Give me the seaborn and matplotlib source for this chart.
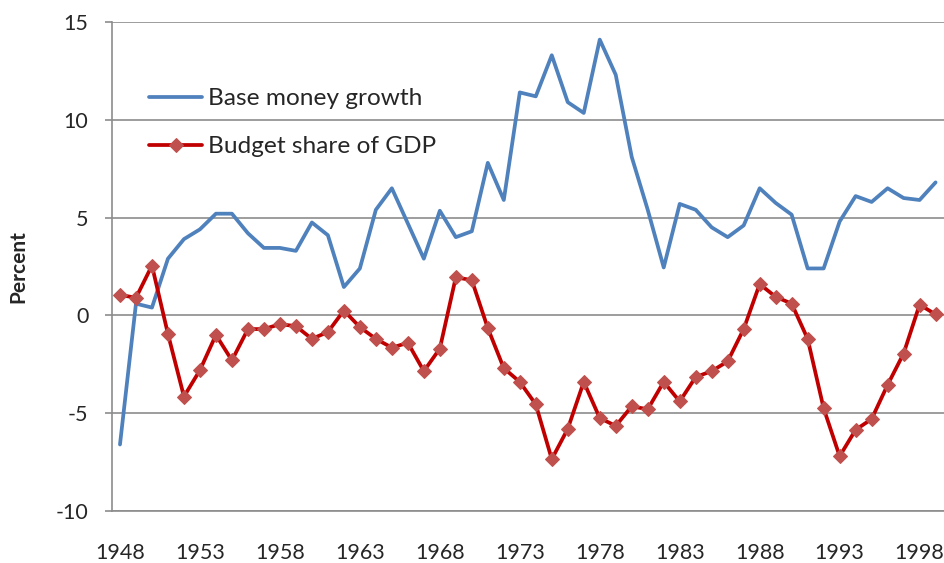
import numpy as np
import pandas as pd
import matplotlib
matplotlib.use('Agg')
import matplotlib.pyplot as plt
import seaborn as sns

# Values
years = list(range(1948, 2000))
base_money_growth = [
    -6.6, 0.6, 0.4, 2.9, 3.9, 4.4, 5.2, 5.2, 4.2, 3.45,
    3.45, 3.3, 4.75, 4.1, 1.45, 2.4, 5.4, 6.5, 4.7, 2.9,
    5.35, 4.0, 4.3, 7.8, 5.9, 11.4, 11.2, 13.3, 10.9, 10.35,
    14.1, 12.3, 8.1, 5.4, 2.45, 5.7, 5.4, 4.5, 4.0, 4.6,
    6.5, 5.75, 5.15, 2.4, 2.4, 4.8, 6.1, 5.8, 6.5, 6.0,
    5.9, 6.8,
]
budget_share_gdp = [
    1.05, 0.9, 2.55, -0.95, -4.15, -2.8, -1.0, -2.3, -0.7, -0.7,
    -0.45, -0.55, -1.2, -0.85, 0.25, -0.6, -1.2, -1.65, -1.4, -2.85,
    -1.7, 1.95, 1.8, -0.65, -2.7, -3.4, -4.55, -7.35, -5.8, -3.4,
    -5.25, -5.65, -4.65, -4.8, -3.4, -4.4, -3.15, -2.85, -2.35, -0.7,
    1.6, 0.95, 0.6, -1.2, -4.75, -7.2, -5.85, -5.3, -3.55, -1.95,
    0.55, 0.05,
]
year_labels = years[::5]

df = pd.DataFrame({'idx': range(len(years)), 'year': years,
                   'money': base_money_growth, 'budget': budget_share_gdp})

sns.set_style('white')
plt.rcParams['font.family'] = ['Lato', 'DejaVu Sans']

fig = plt.figure(figsize=(9.45, 5.63), dpi=100)
ax = fig.add_axes([0.1185, 0.0924, 0.880, 0.8685])

grid_col = '#8c8c8c'
for v in range(-10, 16, 5):
    ax.axhline(v, color=grid_col, lw=1.2, zorder=0)

sns.lineplot(data=df, x='idx', y='money', ax=ax, color='#4F81BD', lw=2.7,
             label='Base money growth', zorder=3)
sns.lineplot(data=df, x='idx', y='budget', ax=ax, color='#C00000', lw=2.7,
             marker='D', markersize=7, markerfacecolor='#C0504D',
             markeredgecolor='#C0504D', label='Budget share of GDP', zorder=4)

ax.set_xlim(-0.5, len(years) - 0.5)
ax.set_ylim(-10, 15)
ax.set_yticks(range(-10, 16, 5))
ax.set_yticklabels([str(v) for v in range(-10, 16, 5)], fontsize=15.5)

# labels centred on categories, tick marks between categories
ax.set_xticks([years.index(y) for y in year_labels])
ax.set_xticklabels([str(y) for y in year_labels], fontsize=15.5)
ax.set_xticks(np.arange(-0.5, len(years), 5), minor=True)
ax.tick_params(axis='x', which='major', length=0, pad=23)
ax.tick_params(axis='x', which='minor', length=5, color=grid_col, width=1.2)
ax.tick_params(axis='y', length=5, color=grid_col, width=1.2, pad=12, left=True)

for s in ['top', 'right']:
    ax.spines[s].set_visible(False)
for s in ['left', 'bottom']:
    ax.spines[s].set_color(grid_col)
    ax.spines[s].set_linewidth(1.2)

ax.set_xlabel('')
ax.set_ylabel('Percent', fontsize=15, fontweight='bold')
ax.yaxis.set_label_coords(-0.1, 0.5)

ax.legend(loc='upper left', bbox_to_anchor=(0.0445, 0.865), frameon=False,
          fontsize=17.6, handlelength=2.17, handletextpad=0.25,
          labelspacing=1.1, borderpad=0, borderaxespad=0)

fig.savefig('out.png', dpi=100)
